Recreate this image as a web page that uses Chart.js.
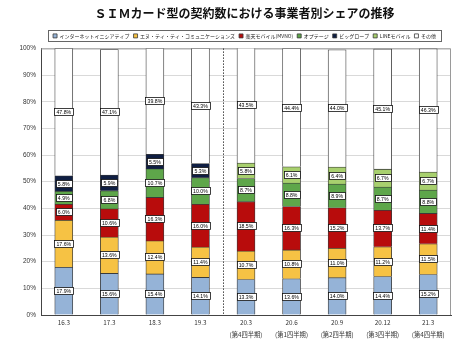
<!DOCTYPE html>
<html>
<head>
<meta charset="utf-8">
<script src="https://cdn.jsdelivr.net/npm/chart.js@4"></script>
<style>
  html, body { margin: 0; padding: 0; background: #fff; }
  #wrap { width: 474px; height: 341px; }
</style>
</head>
<body>
<div id="wrap"><canvas id="chart"></canvas></div>
<script>
// Periods (year.month) and the quarter note shown under the later ones
const periods = ["16.3", "17.3", "18.3", "19.3", "20.3", "20.6", "20.9", "20.12", "21.3"];
const quarters = ["", "", "", "", "(第4四半期)", "(第1四半期)", "(第2四半期)", "(第3四半期)", "(第4四半期)"];

// Share (%) per operator, bottom of the stack first
const iij = [17.9, 15.6, 15.4, 14.1, 13.3, 13.6, 14.0, 14.4, 15.2];
const nttCom = [17.6, 13.6, 12.4, 11.4, 10.7, 10.8, 11.0, 11.2, 11.5];
const rakuten = [6.0, 10.6, 16.3, 16.0, 18.5, 16.3, 15.2, 13.7, 11.4];
const optage = [4.9, 6.8, 10.7, 10.0, 8.7, 8.8, 8.9, 8.7, 8.8];
const biglobe = [5.8, 5.9, 5.5, 5.3, 0, 0, 0, 0, 0];
const lineMobile = [0, 0, 0, 0, 5.8, 6.1, 6.4, 6.7, 6.7];
const others = [47.8, 47.1, 39.8, 43.3, 43.5, 44.4, 44.0, 45.1, 46.3];

const seriesNames = [
  "インターネットイニシアティブ",
  "エヌ・ティ・ティ・コミュニケーションズ",
  "楽天モバイル(MVNO)",
  "オプテージ",
  "ビッグローブ",
  "LINEモバイル",
  "その他",
];
const yTicks = [0, 10, 20, 30, 40, 50, 60, 70, 80, 90, 100];

const seriesData = [iij, nttCom, rakuten, optage, biglobe, lineMobile, others];
const seriesColors = ["#95b3d7", "#f6c244", "#b80c0c", "#5ea64a", "#0f1e42", "#a8d06e", "#ffffff"];

const JP = '"Noto Sans CJK JP", "Noto Sans", sans-serif';
const LAT = '"Liberation Sans", Arial, sans-serif';

// White boxed value labels in the middle of each segment
const valueLabels = {
  id: "valueLabels",
  afterDatasetsDraw(chart) {
    const ctx = chart.ctx;
    ctx.save();
    ctx.font = "5.2px " + LAT;
    ctx.textAlign = "center";
    ctx.textBaseline = "middle";
    chart.data.datasets.forEach((ds, i) => {
      chart.getDatasetMeta(i).data.forEach((bar, j) => {
        const v = ds.data[j];
        if (!v) return;
        const y = Math.round((bar.y + bar.base) / 2);
        const txt = v.toFixed(1) + "%";
        const w = Math.round(ctx.measureText(txt).width + 4);
        const x0 = Math.round(bar.x - w / 2) + 0.5;
        ctx.fillStyle = "#fff";
        ctx.fillRect(x0, y - 3.5, w, 7);
        ctx.strokeStyle = "#111";
        ctx.lineWidth = 0.8;
        ctx.strokeRect(x0, y - 3.5, w, 7);
        ctx.fillStyle = "#000";
        ctx.fillText(txt, bar.x, y + 0.3);
      });
    });
    ctx.restore();
  },
};

// The title and legend in the original sit a little right of the plot centre
const headerShift = {
  id: "headerShift",
  afterLayout(chart) {
    const dx = 17;
    [chart.titleBlock, chart.legend].forEach((b) => {
      if (!b) return;
      b.left += dx;
      b.right += dx;
    });
  },
};

// Plot frame, dotted divider between 19.3 and 20.3, box round the legend
const frame = {
  id: "frame",
  beforeDatasetsDraw(chart) {
    const { ctx, chartArea: a } = chart;
    const x = chart.scales.x;
    ctx.save();
    ctx.strokeStyle = "#9a9a9a";
    ctx.lineWidth = 1;
    ctx.beginPath();
    ctx.moveTo(a.left, a.top + 0.5);
    ctx.lineTo(a.right - 0.5, a.top + 0.5);
    ctx.lineTo(a.right - 0.5, a.bottom);
    ctx.stroke();
    const divX = Math.round((x.getPixelForTick(3) + x.getPixelForTick(4)) / 2) + 0.5;
    ctx.strokeStyle = "#444";
    ctx.setLineDash([1.5, 1.5]);
    ctx.beginPath();
    ctx.moveTo(divX, a.top);
    ctx.lineTo(divX, a.bottom);
    ctx.stroke();
    ctx.restore();
  },
  afterDraw(chart) {
    const lg = chart.legend;
    if (!lg || !lg.legendHitBoxes.length) return;
    const boxes = lg.legendHitBoxes;
    const left = Math.min(...boxes.map((b) => b.left)) - 5;
    const right = Math.max(...boxes.map((b) => b.left + b.width)) + 5;
    const top = Math.min(...boxes.map((b) => b.top)) - 3;
    const bottom = Math.max(...boxes.map((b) => b.top + b.height)) + 3;
    const ctx = chart.ctx;
    ctx.save();
    ctx.strokeStyle = "#666";
    ctx.lineWidth = 1;
    ctx.strokeRect(Math.round(left) + 0.5, Math.round(top) + 0.5, Math.round(right - left), Math.round(bottom - top));
    ctx.restore();
  },
};

const ctx = document.getElementById("chart").getContext("2d");
new Chart(ctx, {
  type: "bar",
  data: {
    labels: periods.map((p, i) => (quarters[i] ? [p, quarters[i]] : p)),
    datasets: seriesNames.map((name, i) => ({
      label: name,
      data: seriesData[i],
      backgroundColor: seriesColors[i],
      borderColor: "#3a3a3a",
      borderWidth: 0.8,
      barThickness: 18,
    })),
  },
  options: {
    responsive: true,
    maintainAspectRatio: false,
    animation: false,
    layout: { padding: { left: 4, right: 23, top: 0, bottom: 2 } },
    plugins: {
      title: {
        display: true,
        text: "ＳＩＭカード型の契約数における事業者別シェアの推移",
        color: "#111",
        font: { family: JP, size: 12, weight: "bold" },
        padding: { top: 6, bottom: 9 },
      },
      legend: {
        position: "top",
        labels: {
          color: "#222",
          font: { family: JP, size: 5 },
          boxWidth: 4,
          boxHeight: 4,
          padding: 4,
        },
      },
      tooltip: { enabled: false },
    },
    scales: {
      x: {
        stacked: true,
        grid: { display: false, drawTicks: false },
        border: { color: "#444", width: 1 },
        ticks: {
          color: "#333",
          font: { family: JP, size: 6.3, lineHeight: 2.0 },
          padding: 1,
          maxRotation: 0,
          autoSkip: false,
        },
        afterFit: (s) => { s.height = 24; },
      },
      y: {
        stacked: true,
        min: 0,
        max: 100,
        afterBuildTicks: (s) => { s.ticks = yTicks.map((v) => ({ value: v })); },
        grid: { color: "#d9d9d9", drawTicks: false },
        border: { color: "#444", width: 1 },
        ticks: {
          color: "#333",
          font: { family: LAT, size: 6.5 },
          padding: 5,
          callback: (v) => v + "%",
        },
        afterFit: (s) => { s.width = 37; },
      },
    },
  },
  plugins: [headerShift, frame, valueLabels],
});
</script>
</body>
</html>
